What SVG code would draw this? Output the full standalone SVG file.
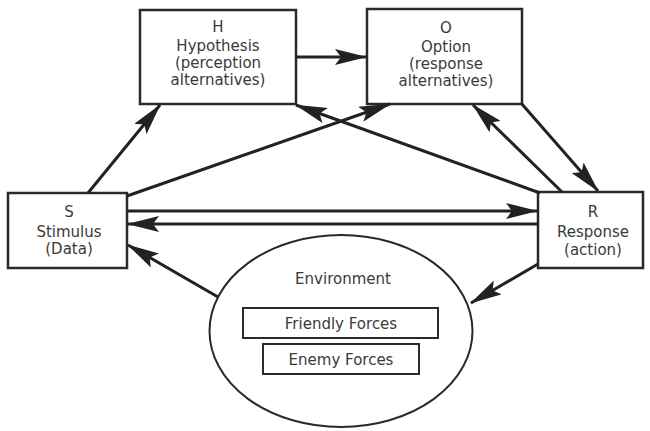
<svg xmlns="http://www.w3.org/2000/svg" width="650" height="431" viewBox="0 0 650 431">
<style>
.box{fill:#fff;stroke:#2a2a2a;stroke-width:2.5}
.sub{fill:#fff;stroke:#2a2a2a;stroke-width:2}
.t{font-family:"DejaVu Sans",sans-serif;font-size:15px;fill:#3a3a3a;text-anchor:middle}
.c{stroke:#222;stroke-width:3;fill:none;marker-end:url(#ah)}
</style>
<defs>
<marker id="ah" viewBox="0 0 32 16" refX="31" refY="8" markerWidth="32" markerHeight="16" markerUnits="userSpaceOnUse" orient="auto">
<path d="M0,0 L32,8 L0,16 L6,8 z" fill="#222"/>
</marker>
</defs>
<rect width="650" height="431" fill="#fff"/>
<g id="H">
<rect class="box" x="140" y="10" width="156" height="94"/>
<text class="t" x="218" y="32">H</text>
<text class="t" x="218" y="51">Hypothesis</text>
<text class="t" x="218" y="68">(perception</text>
<text class="t" x="218" y="85">alternatives)</text>
</g>
<g id="O">
<rect class="box" x="367" y="9" width="155" height="95"/>
<text class="t" x="446" y="33">O</text>
<text class="t" x="446" y="52">Option</text>
<text class="t" x="446" y="69">(response</text>
<text class="t" x="446" y="86">alternatives)</text>
</g>
<g id="S">
<rect class="box" x="8" y="193" width="119" height="75"/>
<text class="t" x="69" y="217">S</text>
<text class="t" x="69" y="237">Stimulus</text>
<text class="t" x="69" y="254">(Data)</text>
</g>
<g id="R">
<rect class="box" x="538" y="192" width="105" height="76"/>
<text class="t" x="593" y="217">R</text>
<text class="t" x="593" y="237">Response</text>
<text class="t" x="593" y="255">(action)</text>
</g>
<g id="Environment">
<ellipse cx="341" cy="331" rx="131.5" ry="96" fill="#fff" stroke="#2a2a2a" stroke-width="2"/>
<text class="t" x="343" y="284">Environment</text>
<rect class="sub" x="243" y="308" width="195" height="30"/>
<text class="t" x="341" y="329">Friendly Forces</text>
<rect class="sub" x="263" y="344" width="156" height="30"/>
<text class="t" x="341" y="365">Enemy Forces</text>
</g>
<g id="connectors">
<line class="c" x1="88" y1="193" x2="160" y2="105"/>
<line class="c" x1="296" y1="57" x2="366" y2="57"/>
<line class="c" x1="127" y1="196" x2="390" y2="104"/>
<line class="c" x1="540" y1="193" x2="296" y2="105"/>
<line class="c" x1="562" y1="192" x2="473" y2="105"/>
<line class="c" x1="521" y1="103" x2="598" y2="191"/>
<line class="c" x1="127" y1="211" x2="537" y2="211"/>
<line class="c" x1="538" y1="224" x2="128" y2="224"/>
<line class="c" x1="218" y1="297" x2="128" y2="245"/>
<line class="c" x1="538" y1="264" x2="471" y2="303"/>
</g>
</svg>
